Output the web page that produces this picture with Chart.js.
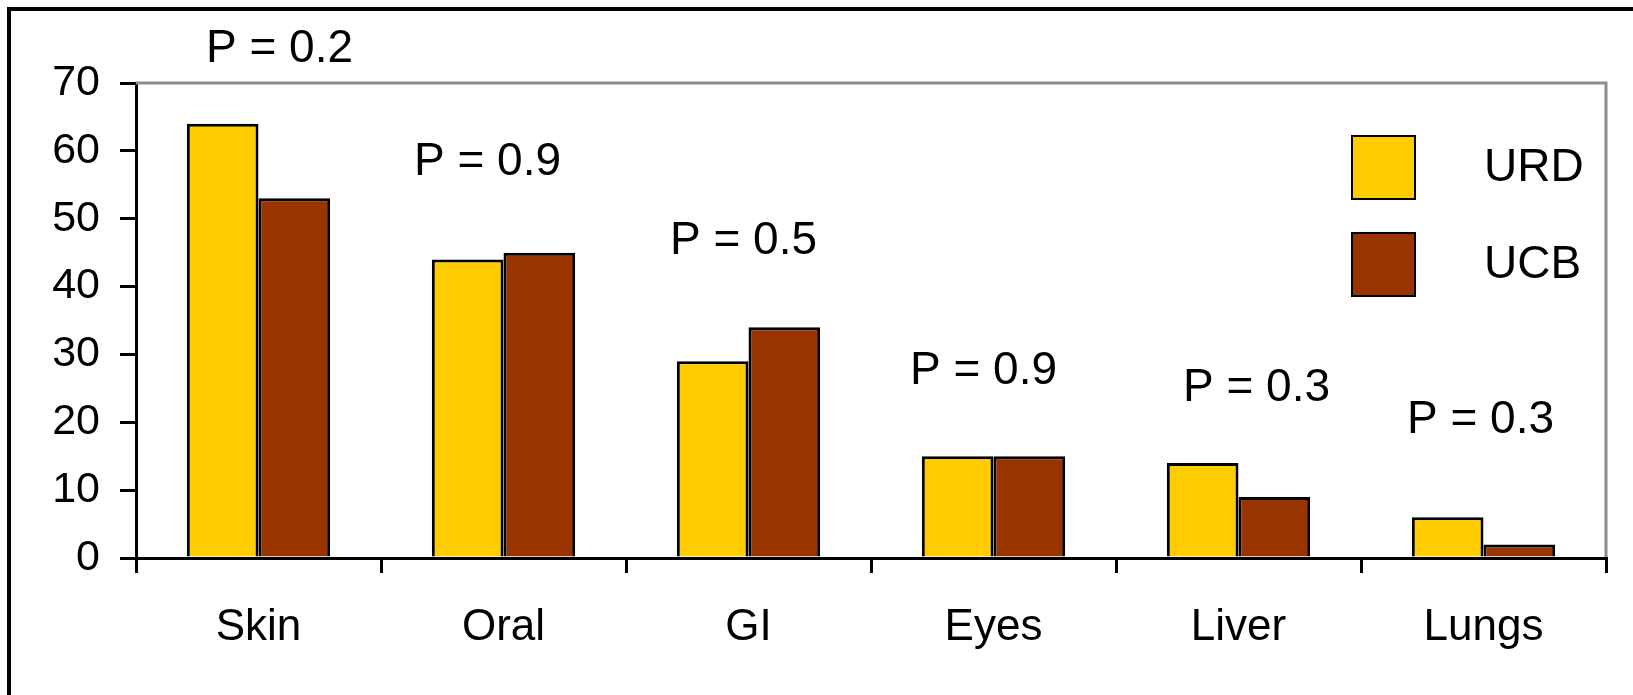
<!DOCTYPE html>
<html>
<head>
<meta charset="utf-8">
<script src="https://cdn.jsdelivr.net/npm/chart.js@4.4.0/dist/chart.umd.min.js"></script>
<style>
    html, body { margin: 0; padding: 0; background: #ffffff; }
    #wrap { width: 1633px; height: 695px; }
</style>
</head>
<body>
<div id="wrap"><canvas id="gvhdChart" width="1633" height="695"></canvas></div>
<script>
// categories and series
const organs = ['Skin', 'Oral', 'GI', 'Eyes', 'Liver', 'Lungs'];
const urdValues = [64, 44, 29, 15, 14, 6];
const ucbValues = [53, 45, 34, 15, 9, 2];
const pLabels = ['P = 0.2', 'P = 0.9', 'P = 0.5', 'P = 0.9', 'P = 0.3', 'P = 0.3'];
const yTicks = [0, 10, 20, 30, 40, 50, 60, 70];

const FONT = 'Liberation Sans, Arial, sans-serif';

// outer frame, top/right gray border of the plot, legend and P labels
const decorPlugin = {
    id: 'decor',
    afterDraw(chart, args, opts) {
        const ctx = chart.ctx;
        const area = chart.chartArea;
        const x = chart.scales.x;
        const y = chart.scales.y;
        ctx.save();

        // frame (only left and top edges are inside the picture)
        ctx.strokeStyle = '#000';
        ctx.lineWidth = 4;
        ctx.beginPath();
        ctx.moveTo(9, chart.height + 5);
        ctx.lineTo(9, 9);
        ctx.lineTo(chart.width + 5, 9);
        ctx.stroke();

        // gray plot border
        ctx.strokeStyle = '#8c8c8c';
        ctx.lineWidth = 3;
        ctx.beginPath();
        ctx.moveTo(area.left, area.top);
        ctx.lineTo(area.right, area.top);
        ctx.lineTo(area.right, area.bottom - 1);
        ctx.stroke();

        // legend
        ctx.font = '46px ' + FONT;
        ctx.textBaseline = 'middle';
        ctx.textAlign = 'left';
        chart.data.datasets.forEach((ds, i) => {
            const by = opts.legendTop + i * opts.legendStep;
            ctx.fillStyle = ds.backgroundColor;
            ctx.fillRect(opts.legendLeft, by, opts.legendBox, opts.legendBox);
            ctx.strokeStyle = '#000';
            ctx.lineWidth = 2;
            ctx.strokeRect(opts.legendLeft, by, opts.legendBox, opts.legendBox);
            ctx.fillStyle = '#000';
            ctx.fillText(ds.label, opts.legendText, by + opts.legendBox / 2 + 1);
        });

        // P value labels above each pair of bars
        ctx.textAlign = 'center';
        pLabels.forEach((txt, i) => {
            const top = Math.max(urdValues[i], ucbValues[i]);
            const off = opts.pOffsets[i];
            ctx.fillText(txt, x.getPixelForValue(i) + off[0], y.getPixelForValue(top) + off[1]);
        });

        ctx.restore();
    }
};

const chart = new Chart(document.getElementById('gvhdChart'), {
    type: 'bar',
    data: {
        labels: organs,
        datasets: [
            { label: 'URD', data: urdValues, backgroundColor: '#ffcc00', borderColor: '#000', borderWidth: 3, borderSkipped: 'bottom' },
            { label: 'UCB', data: ucbValues, backgroundColor: '#993300', borderColor: '#000', borderWidth: 3, borderSkipped: 'bottom' }
        ]
    },
    options: {
        responsive: false,
        animation: false,
        layout: { padding: { top: 83, right: 27, left: 0, bottom: 0 } },
        datasets: { bar: { barPercentage: 1.0, categoryPercentage: 0.585 } },
        scales: {
            x: {
                grid: { offset: true, drawOnChartArea: false, drawTicks: true, tickLength: 15, color: '#000', lineWidth: 3 },
                border: { display: true, color: '#000', width: 3 },
                ticks: { color: '#000', font: { family: FONT, size: 44 }, padding: 28, maxRotation: 0 },
                afterFit: (s) => { s.height = 137; }
            },
            y: {
                min: 0, max: 70,
                afterBuildTicks: (s) => { s.ticks = yTicks.map(v => ({ value: v })); },
                grid: { drawOnChartArea: false, drawTicks: true, tickLength: 16, color: '#000', lineWidth: 3 },
                border: { display: true, color: '#000', width: 3 },
                ticks: { color: '#000', font: { family: FONT, size: 43 }, padding: 20 },
                afterFit: (s) => { s.width = 136; }
            }
        },
        plugins: {
            legend: { display: false },
            tooltip: { enabled: false },
            decor: {
                legendLeft: 1352, legendTop: 136, legendStep: 97, legendBox: 63, legendText: 1484,
                pOffsets: [[21, -74], [-16, -90], [-5, -86], [-10, -85], [18, -75], [-3, -97]]
            }
        }
    },
    plugins: [decorPlugin]
});
</script>
</body>
</html>
